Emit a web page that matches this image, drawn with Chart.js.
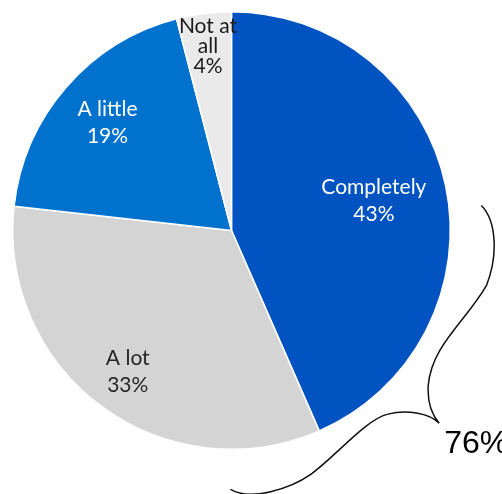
<!DOCTYPE html>
<html>
<head>
<meta charset="utf-8">
<script src="https://cdn.jsdelivr.net/npm/chart.js@4.4.1/dist/chart.umd.min.js"></script>
<style>
  html, body { margin: 0; padding: 0; background: #ffffff; }
  #wrap { width: 502px; height: 494px; }
</style>
</head>
<body>
<div id="wrap"><canvas id="pieChart" width="502" height="494"></canvas></div>
<script>
const categories = ['Completely', 'A lot', 'A little', 'Not at all'];
const labelLines = [['Completely'], ['A lot'], ['A little'], ['Not at', 'all']];
const shares = [43, 33, 19, 4];
const sliceColors = ['#0053c1', '#d4d4d4', '#0071cd', '#eaeaea'];
const textColors = ['#ffffff', '#262626', '#ffffff', '#1a1a1a'];
// the brace groups the first two answers
const braceTotal = shares[0] + shares[1];

// label distance from centre, as part of the radius
const labelRadius = [0.665, 0.80, 0.75, 0.85];
const labelLineHeight = [27, 27, 27, 20];

const sliceLabels = {
  id: 'sliceLabels',
  afterDatasetsDraw(chart) {
    const {ctx} = chart;
    const arcs = chart.getDatasetMeta(0).data;
    ctx.save();
    ctx.font = '21px Lato, "Open Sans", sans-serif';
    ctx.textAlign = 'center';
    ctx.textBaseline = 'middle';
    arcs.forEach((arc, i) => {
      const {x, y, startAngle, endAngle, outerRadius} = arc.getProps(['x', 'y', 'startAngle', 'endAngle', 'outerRadius'], true);
      const mid = (startAngle + endAngle) / 2;
      const cx = x + Math.cos(mid) * outerRadius * labelRadius[i];
      const cy = y + Math.sin(mid) * outerRadius * labelRadius[i];
      const lines = [...labelLines[i], shares[i] + '%'];
      const lh = labelLineHeight[i];
      const top = cy - (lines.length - 1) * lh / 2;
      ctx.fillStyle = textColors[i];
      lines.forEach((line, j) => ctx.fillText(line, cx, top + j * lh));
    });
    ctx.restore();
  }
};

// curly brace beside the first two slices, drawn in units of the radius
const bracePlugin = {
  id: 'brace',
  afterDraw(chart) {
    const {ctx} = chart;
    const arc = chart.getDatasetMeta(0).data[0];
    if (!arc) return;
    const {x, y, outerRadius} = arc.getProps(['x', 'y', 'outerRadius'], true);
    const k = outerRadius / 218;
    const p = (dx, dy) => [x + dx * k, y + dy * k];
    const segs = [
      [[264, -10], [266, 25], [254, 55]],
      [[234, 90], [199, 115], [196, 155]],
      [[195, 175], [201, 185], [207, 192]],
      [[197, 182], [174, 178], [156, 183]],
      [[134, 188], [104, 225], [79, 243]],
      [[59, 257], [19, 270], [-1, 258]],
    ];
    ctx.save();
    ctx.strokeStyle = '#111111';
    ctx.lineWidth = 1.5;
    ctx.beginPath();
    ctx.moveTo(...p(249, -25));
    segs.forEach(s => ctx.bezierCurveTo(...p(...s[0]), ...p(...s[1]), ...p(...s[2])));
    ctx.stroke();
    ctx.fillStyle = '#000000';
    ctx.font = '32px "Liberation Sans", Arial, sans-serif';
    ctx.textAlign = 'left';
    ctx.textBaseline = 'alphabetic';
    ctx.fillText(braceTotal + '%', ...p(212, 222));
    ctx.restore();
  }
};

new Chart(document.getElementById('pieChart'), {
  type: 'pie',
  data: {
    labels: categories,
    datasets: [{
      data: shares,
      backgroundColor: sliceColors,
      borderColor: '#ffffff',
      borderWidth: 1.5,
    }]
  },
  options: {
    responsive: false,
    animation: false,
    layout: { padding: { left: 12, right: 51, top: 11, bottom: 44 } },
    plugins: {
      legend: { display: false },
      tooltip: { enabled: false },
    }
  },
  plugins: [sliceLabels, bracePlugin]
});
</script>
</body>
</html>
